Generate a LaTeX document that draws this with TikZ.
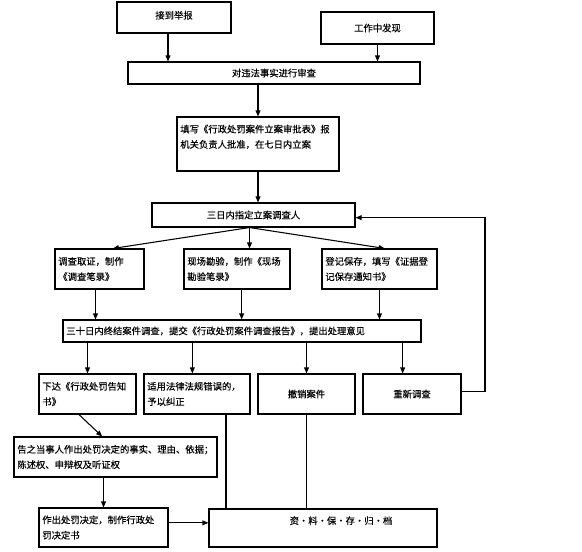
\documentclass[tikz,border=0pt]{standalone}
\usepackage{fontspec}
\newfontfamily\cjk[FakeBold=0.3]{Noto Sans CJK SC}
\usetikzlibrary{arrows.meta}
\tikzset{
  box/.style={draw, line width=0.8pt, font=\cjk\fontsize{7pt}{11.5pt}\selectfont, inner sep=2.5pt, align=center},
  wh/.style 2 args={minimum width=#1*0.75pt, minimum height=#2*0.75pt},
  lbox/.style={box, align=left, text width=#1pt},
  flow/.style={-{Triangle[length=4.5pt,width=3.6pt]}, line width=0.8pt},
  link/.style={line width=0.8pt},
}

\begin{document}
\begin{tikzpicture}[x=0.75pt, y=-0.75pt]
  \useasboundingbox (0,0) rectangle (582,551);

  % --- case sources ---
  \node[box, wh={114}{31}] (report) at (174,17.5) {\raisebox{4pt}{接到举报}};
  \node[box, wh={113}{32}] (found) at (377.5,28) {工作中发现};
  \node[box, wh={292}{22}] (review) at (274,73) {对违法事实进行审查};

  % --- filing and assignment ---
  \node[lbox=116.5, wh={162}{54}] (approve) at (258,144)
    {填写《行政处罚案件立案审批表》报\\机关负责人批准，在七日内立案\\ ~};
  \node[box, wh={203}{24}] (assign) at (253.5,215) {三日内指定立案调查人};

  % --- three kinds of investigation ---
  \node[lbox=61.75, wh={89}{40}] (evid) at (99.5,269) {调查取证，制作\\《调查笔录》};
  \node[lbox=74.5, wh={106}{40}] (scene) at (237,269) {现场勘验，制作《现场\\勘验笔录》};
  \node[lbox=81.25, wh={115}{40}] (store) at (379.5,269) {登记保存，填写《证据登\\记保存通知书》};

  \node[lbox=263.5, wh={358}{22}] (conclude) at (242,331)
    {三十日内终结案件调查，提交《行政处罚案件调查报告》，提出处理意见};

  % --- outcomes ---
  \node[lbox=67.75, wh={97}{40}] (notice) at (87.5,394) {下达《行政处罚告知\\书》};
  \node[lbox=74.5, wh={106}{40}] (correct) at (197,394) {适用法律法规错误的，\\予以纠正};
  \node[box, wh={97}{40}] (cancel) at (306.5,394) {撤销案件};
  \node[box, wh={98}{40}] (reinv) at (412,394) {重新调查};

  \node[lbox=147.25, wh={203}{40}] (inform) at (115.5,457)
    {告之当事人作出处罚决定的事实、理由、依据；\\陈述权、申辩权及听证权};
  \node[lbox=91.75, wh={129}{39}] (decide) at (103.5,527.5) {作出处罚决定，制作行政处\\罚决定书};
  \node[box, wh={228}{38}] (archive) at (323,528) {\hspace*{27pt}资·料·保·存·归·档\\ ~};

  % --- connectors ---
  \draw[flow] ([xshift=-4.5pt]report.south) -- ([xshift=-4.5pt]report.south |- review.north);
  \draw[flow] (found.south) -- (found.south |- review.north);
  \draw[flow] (approve.north |- review.south) -- (approve.north);
  \draw[flow] (approve.south) -- (approve.south |- assign.north);

  \draw[flow] ([xshift=-3pt]assign.south) -- ([xshift=10pt]evid.north);
  \draw[flow] ([xshift=-3pt]assign.south) -- ([xshift=-3pt]assign.south |- scene.north);
  \draw[flow] ([xshift=-3pt]assign.south) -- ([xshift=4pt]store.north);

  \draw[flow] ([xshift=-3pt]evid.south) -- ([xshift=-3pt]evid.south |- conclude.north);
  \draw[flow] ([xshift=3.5pt]scene.south) -- ([xshift=3.5pt]scene.south |- conclude.north);
  \draw[flow] (store.south) -- (store.south |- conclude.north);

  \draw[flow] (notice.north |- conclude.south) -- (notice.north);
  \draw[flow] ([xshift=-3.5pt]correct.north |- conclude.south) -- ([xshift=-3.5pt]correct.north);
  \draw[flow] (cancel.north |- conclude.south) -- (cancel.north);
  \draw[flow] ([xshift=-7pt]reinv.north |- conclude.south) -- ([xshift=-7pt]reinv.north);

  % back to assignment
  \coordinate (back) at (485,300);
  \draw[flow] ([yshift=2pt]reinv.east) -| (back) |- ([yshift=-2pt]assign.east);

  \draw[flow] ([xshift=-6.4pt]notice.south) -- ([xshift=-10pt]inform.north);
  \draw[flow] (decide.north |- inform.south) -- (decide.north);
  \draw[flow] ([yshift=3.5pt]decide.east) -- ([yshift=3.5pt]decide.east -| archive.west);

  \draw[link] ([xshift=21.75pt]correct.south) -- ([xshift=21.75pt]correct.south |- archive.north);
  \draw[link] (cancel.south) -- (cancel.south |- archive.north);
\end{tikzpicture}
\end{document}
